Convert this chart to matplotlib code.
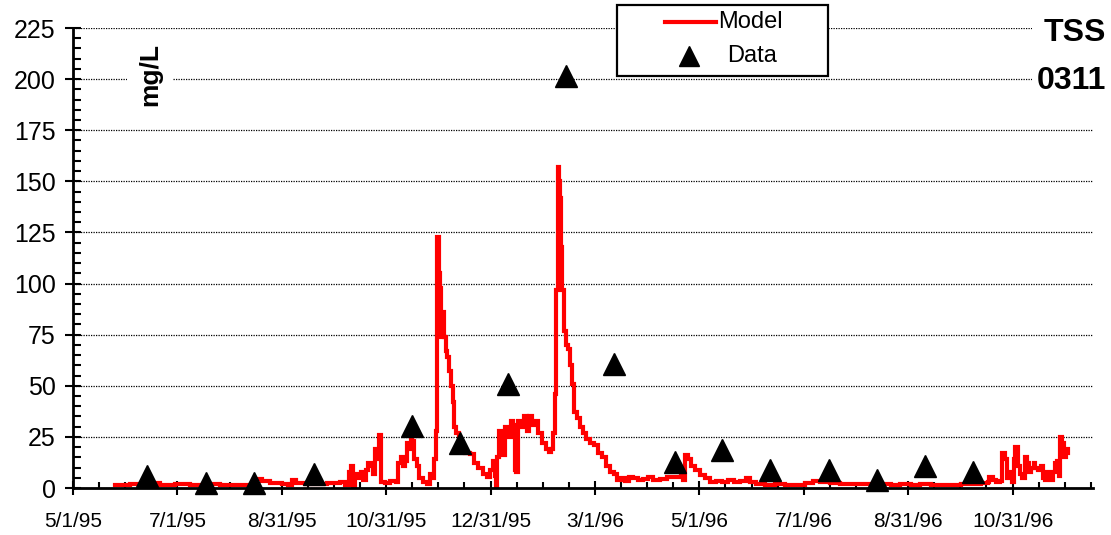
import numpy as np
import matplotlib
matplotlib.use("Agg")
import matplotlib.pyplot as plt
import matplotlib.dates as mdates
from matplotlib.lines import Line2D
from matplotlib.patches import Rectangle

plt.rcParams['font.family'] = ['Liberation Sans', 'DejaVu Sans']

# ---------------- data ----------------
start_date = "1995-05-01"

# Model series: days since 5/1/95 and TSS (mg/L)
model_day = [24.6, 33.3, 39.2, 45.0, 50.9, 59.6, 68.4, 77.2, 85.9, 97.6,
             103.5, 107.0, 110.5, 115.2, 122.2, 125.7, 128.0, 130.4, 135.6, 141.5,
             148.5, 156.1, 159.0, 161.4, 162.5, 163.4, 164.9, 166.6, 168.4, 169.6,
             171.3, 172.5, 174.2, 175.4, 176.6, 177.7, 178.6, 179.5, 180.1, 182.4,
             185.3, 188.8, 190.0, 191.8, 192.9, 194.1, 195.3, 196.4, 197.3, 198.2,
             199.4, 201.1, 202.3, 204.6, 207.0, 208.7, 209.9, 211.1, 212.2, 212.8,
             213.7, 214.6, 215.2, 216.0, 216.9, 217.8, 218.7, 219.8, 221.0, 221.9,
             222.8, 223.9, 225.7, 229.2, 232.1, 234.4, 236.8, 239.7, 242.1, 243.8,
             245.6, 246.4, 247.0, 247.9, 249.1, 250.2, 251.4, 252.6, 253.7, 254.9,
             256.1, 257.3, 258.1, 259.0, 260.2, 261.9, 263.7, 265.4, 266.6, 268.4,
             270.1, 271.9, 274.2, 276.5, 278.3, 279.5, 280.6, 281.8, 282.4, 283.3,
             283.8, 284.7, 285.3, 285.9, 286.5, 287.1, 288.2, 289.4, 290.6, 291.7,
             292.9, 294.7, 296.4, 298.2, 299.9, 302.3, 304.6, 306.9, 309.3, 311.6,
             314.0, 316.3, 318.1, 320.4, 322.7, 325.1, 327.4, 330.3, 333.3, 336.2,
             339.1, 343.2, 347.3, 352.0, 355.5, 356.6, 357.8, 359.6, 361.3, 363.7,
             366.6, 369.5, 372.4, 375.9, 379.4, 382.9, 386.5, 390.0, 393.5, 395.8,
             399.3, 404.6, 410.4, 416.3, 422.1, 428.0, 432.1, 436.7, 442.6, 448.4,
             454.3, 460.1, 466.0, 471.8, 477.7, 483.5, 489.4, 495.2, 501.1, 506.9,
             512.7, 518.6, 524.4, 530.3, 534.4, 535.5, 537.3, 539.1, 541.4, 542.6,
             544.3, 545.5, 547.2, 548.4, 549.6, 550.7, 551.9, 553.1, 554.8, 556.0,
             557.2, 558.4, 559.5, 561.3, 562.4, 563.6, 565.4, 566.5, 567.7, 568.9,
             570.0, 571.2, 572.4, 573.6, 574.7, 575.9, 576.8, 577.6, 578.8, 580.0,
             581.2]
model_tss = [1.5, 2.2, 1.5, 2.5, 1.5, 2.0, 1.3, 2.0, 1.5, 1.5,
             1.5, 4.5, 3.5, 2.5, 2.0, 1.5, 4.0, 2.5, 2.0, 2.0,
             2.5, 3.0, 1.5, 8.0, 11.0, 0.5, 7.0, 5.0, 8.0, 4.0,
             9.0, 12.0, 11.0, 7.0, 19.0, 14.0, 26.0, 26.0, 3.0, 2.5,
             3.5, 3.0, 12.0, 15.0, 11.0, 13.0, 22.0, 19.0, 26.0, 23.0,
             14.0, 11.0, 5.0, 3.0, 2.0, 7.0, 5.0, 14.0, 28.0, 123.0,
             105.0, 98.0, 74.0, 86.0, 74.0, 67.0, 64.0, 57.0, 50.0, 42.0,
             30.0, 27.0, 18.5, 17.0, 16.5, 12.0, 10.0, 7.0, 5.5, 9.0,
             13.0, 6.0, 0.5, 15.0, 28.0, 26.0, 16.0, 30.0, 27.0, 25.0,
             33.0, 31.0, 9.0, 8.0, 33.0, 30.0, 35.0, 28.0, 35.0, 31.0,
             33.0, 27.0, 22.0, 19.0, 17.5, 19.0, 27.0, 46.0, 97.0, 157.0,
             150.0, 142.0, 118.0, 97.0, 97.0, 77.0, 70.0, 68.0, 60.0, 51.0,
             37.0, 34.0, 30.0, 27.0, 24.0, 22.0, 21.0, 17.0, 15.0, 11.0,
             8.0, 7.0, 4.0, 5.0, 3.5, 5.5, 5.0, 4.0, 4.5, 5.5,
             4.0, 4.5, 5.5, 5.5, 6.0, 4.0, 16.0, 14.0, 11.0, 9.0,
             6.5, 5.0, 3.0, 3.5, 3.0, 4.0, 3.0, 3.5, 5.0, 3.0,
             2.0, 1.5, 2.0, 1.5, 1.5, 2.5, 3.5, 3.0, 2.5, 2.0,
             2.2, 2.0, 1.5, 1.8, 1.3, 2.0, 1.5, 1.8, 1.4, 1.6,
             1.5, 1.8, 2.0, 2.5, 3.0, 5.5, 4.0, 3.0, 3.5, 17.0,
             14.0, 5.0, 8.0, 3.0, 14.0, 20.0, 11.0, 7.0, 5.0, 15.0,
             12.0, 8.0, 10.0, 12.0, 10.0, 9.0, 11.0, 5.0, 4.0, 8.0,
             6.0, 4.0, 8.0, 12.0, 13.0, 6.0, 25.0, 22.0, 15.0, 19.0,
             17.0]

# Observed data
data_dates = ["1995-06-13", "1995-07-18", "1995-08-15", "1995-09-19", "1995-11-15",
              "1995-12-13", "1996-01-10", "1996-02-13", "1996-03-12", "1996-04-17",
              "1996-05-14", "1996-06-11", "1996-07-16", "1996-08-13", "1996-09-10",
              "1996-10-08"]
data_tss = [5.9, 2.4, 2.4, 6.8, 30.5, 22.0, 51.0, 201.5, 60.6, 12.7,
            18.6, 8.8, 8.8, 3.9, 10.8, 7.8]

tick_dates = ["1995-05-01", "1995-07-01", "1995-08-31", "1995-10-31", "1995-12-31",
              "1996-03-01", "1996-05-01", "1996-07-01", "1996-08-31", "1996-10-31"]
tick_labels = ["5/1/95", "7/1/95", "8/31/95", "10/31/95", "12/31/95",
               "3/1/96", "5/1/96", "7/1/96", "8/31/96", "10/31/96"]
y_ticks = [0, 25, 50, 75, 100, 125, 150, 175, 200, 225]

# ---------------- figure ----------------
W, H = 1111, 535
fig = plt.figure(figsize=(W / 100, H / 100), dpi=100)
ax = fig.add_axes([73 / W, (H - 488) / H, (1093 - 73) / W, (488 - 28) / H])

t0 = mdates.datestr2num(start_date)
mx = t0 + np.array(model_day)
dx = mdates.datestr2num(data_dates)

ax.plot(mx, model_tss, color='#FF0000', lw=3.0, zorder=3, drawstyle='steps-post',
        solid_joinstyle='miter')
ax.plot(dx, data_tss, linestyle='none', marker='^', ms=15.5, color='black',
        markeredgecolor='black', zorder=4, clip_on=False)

ax.set_xlim(t0, t0 + 596)
ax.set_ylim(0, 225)

ax.set_xticks(mdates.datestr2num(tick_dates))
ax.set_xticklabels(tick_labels, fontsize=15)
ax.set_xticks(t0 + np.arange(0, 596, 15.25), minor=True)
ax.set_yticks(y_ticks)
ax.set_yticklabels([str(v) for v in y_ticks], fontsize=18)
ax.set_yticks(np.arange(0, 226, 5), minor=True)

ax.tick_params(axis='both', which='major', direction='inout', width=1.5, color='black')
ax.tick_params(axis='x', which='major', length=9.5, pad=12.5)
ax.tick_params(axis='y', which='major', length=11, pad=7)
ax.tick_params(axis='both', which='minor', direction='in', width=1.5)
ax.tick_params(axis='x', which='minor', length=4.5)
ax.tick_params(axis='y', which='minor', length=5.5)

for s in ['top', 'right']:
    ax.spines[s].set_visible(False)
for s in ['left', 'bottom']:
    ax.spines[s].set_linewidth(2)
    ax.spines[s].set_zorder(5)

ax.yaxis.grid(True, which='major', color='black', linestyle=(0, (1, 1)), lw=0.9)
ax.set_axisbelow(True)

# labels
fig.text(150 / W, 1 - 75 / H, "mg/L", rotation=90, fontsize=19, fontweight='bold',
         ha='center', va='center',
         bbox=dict(facecolor='white', edgecolor='none', pad=8), zorder=6)
fig.text(1106 / W, 1 - 57 / H, "TSS\n0311", fontsize=23, fontweight='bold',
         ha='right', va='center', linespacing=1.75, multialignment='right',
         bbox=dict(facecolor='white', edgecolor='none', pad=3), zorder=6)

# legend box
lg = fig.add_axes([0, 0, 1, 1], facecolor='none', zorder=7)
lg.set_xlim(0, W)
lg.set_ylim(H, 0)
lg.axis('off')
lg.add_patch(Rectangle((617, 5), 211, 71, facecolor='white', edgecolor='black', lw=1.6))
lg.add_line(Line2D([665, 716], [22, 22], color='#FF0000', lw=3.0))
lg.add_line(Line2D([689], [56], marker='^', ms=15, color='black', linestyle='none'))
lg.text(718, 22, "Model", fontsize=17, va='center', ha='left')
lg.text(727, 56, "Data", fontsize=17, va='center', ha='left')

fig.savefig("out.png", dpi=100)
